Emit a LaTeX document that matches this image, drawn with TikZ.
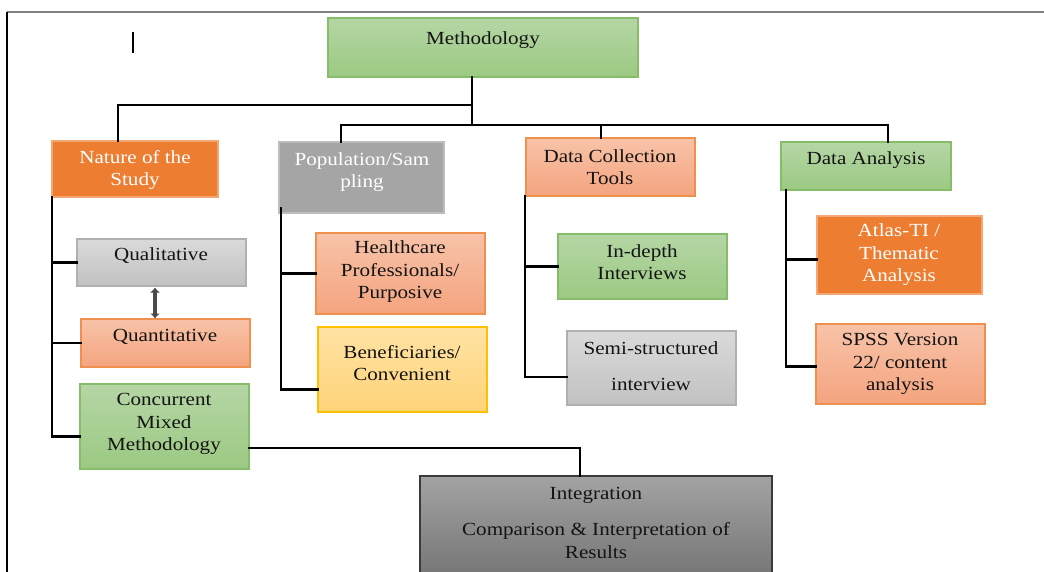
\documentclass[tikz,border=0pt]{standalone}
\usepackage{fontspec}
\setmainfont[FakeStretch=1.14]{Liberation Serif}
\usetikzlibrary{arrows.meta,calc}
\definecolor{grT}{HTML}{B5D6A5}
\definecolor{grB}{HTML}{9BC982}
\definecolor{grD}{HTML}{86BD68}
\definecolor{orF}{HTML}{ED7D31}
\definecolor{orD}{HTML}{F4A772}
\definecolor{saT}{HTML}{F8C3A8}
\definecolor{saB}{HTML}{F4A47F}
\definecolor{saD}{HTML}{F0904E}
\definecolor{gyF}{HTML}{A5A5A5}
\definecolor{gyD}{HTML}{BDBDBD}
\definecolor{lgT}{HTML}{DADADA}
\definecolor{lgB}{HTML}{C1C1C1}
\definecolor{lgD}{HTML}{B0B0B0}
\definecolor{yeT}{HTML}{FFE2A3}
\definecolor{yeB}{HTML}{FFD479}
\definecolor{yeD}{HTML}{FFC000}
\definecolor{dgT}{HTML}{A3A3A3}
\definecolor{dgB}{HTML}{767676}
\definecolor{dgD}{HTML}{3A3A3A}
\definecolor{txtc}{HTML}{141414}
\definecolor{arc}{HTML}{4A4A4A}
\tikzset{
  box/.style={rectangle, line width=1.2pt, inner sep=0pt},
  greenbox/.style={box, draw=grD, top color=grT, bottom color=grB},
  orangebox/.style={box, draw=orD, fill=orF},
  salmonbox/.style={box, draw=saD, top color=saT, bottom color=saB},
  greybox/.style={box, draw=gyD, fill=gyF},
  lgreybox/.style={box, draw=lgD, top color=lgT, bottom color=lgB},
  yellowbox/.style={box, draw=yeD, top color=yeT, bottom color=yeB},
  darkbox/.style={box, draw=dgD, top color=dgT, bottom color=dgB},
  txt/.style={align=center, inner sep=0pt, text=txtc, font=\fontsize{18.5}{22.5}\selectfont},
  wtxt/.style={txt, text=white},
  conn/.style={draw=black, line width=2.8pt, line cap=rect},
}
\begin{document}
\begin{tikzpicture}[x=1pt,y=-1pt]
\useasboundingbox (0,0) rectangle (1044,572);
\fill[white] (0,0) rectangle (1044,572);
% frame
\coordinate (ftl) at (7,12);
\coordinate (ftr) at (1044,12);
\coordinate (fbl) at (7,572);
\draw[gray, line width=1.8pt] (ftl) -- (ftr);
\draw[black, line width=1.8pt] (ftl) -- (fbl);
\coordinate (bar1) at (133,32);
\coordinate (bar2) at (133,53);
\draw[black, line width=1.5pt] (bar1) -- (bar2);

% boxes
\node[greenbox, minimum width=310pt, minimum height=59pt] (meth) at (483,47.5) {};
\node[orangebox, minimum width=166pt, minimum height=56pt] (nat) at (135,169) {};
\node[greybox, minimum width=165pt, minimum height=71pt] (pop) at (361.5,177.5) {};
\node[salmonbox, minimum width=169pt, minimum height=58pt] (dc) at (610.5,167) {};
\node[greenbox, minimum width=170pt, minimum height=48pt] (da) at (866,166) {};
\node[lgreybox, minimum width=169pt, minimum height=47pt] (qual) at (161.5,262.5) {};
\node[salmonbox, minimum width=169pt, minimum height=48pt] (quant) at (165.5,343) {};
\node[greenbox, minimum width=169pt, minimum height=85pt] (conc) at (164.5,426.5) {};
\node[salmonbox, minimum width=169pt, minimum height=81pt] (hc) at (400.5,273.5) {};
\node[yellowbox, minimum width=169pt, minimum height=85pt] (ben) at (402.5,369.5) {};
\node[greenbox, minimum width=169pt, minimum height=65pt] (ind) at (642.5,266.5) {};
\node[lgreybox, minimum width=169pt, minimum height=74pt] (semi) at (651.5,368) {};
\node[orangebox, minimum width=165pt, minimum height=78pt] (atl) at (899.5,255) {};
\node[salmonbox, minimum width=169pt, minimum height=80pt] (spss) at (900.5,364) {};
\node[darkbox, minimum width=352pt, minimum height=99pt] (integ) at (596,525.5) {};

% texts
\node[txt] (tmeth) at (483,40) {Methodology};
\node[wtxt] (tnat) at (135,170) {Nature of the\\Study};
\node[wtxt] (tpop) at (362,172) {Population/Sam\\pling};
\node[txt] (tdc) at (610,167) {Data Collection\\Tools};
\node[txt] (tda) at (866,160) {Data Analysis};
\node[txt] (tqual) at (161,256) {Qualitative};
\node[txt] (tquant) at (165,337) {Quantitative};
\node[txt] (tconc) at (164,424) {Concurrent\\Mixed\\Methodology};
\node[txt] (thc) at (400,272) {Healthcare\\Professionals/\\Purposive};
\node[txt] (tben) at (402,363) {Beneficiaries/\\Convenient};
\node[txt] (tind) at (642,262) {In-depth\\Interviews};
\node[txt] (tsemi) at (651,366) {Semi-structured\\[13pt]interview};
\node[wtxt] (tatl) at (899,255) {Atlas-TI /\\Thematic\\Analysis};
\node[txt] (tspss) at (900,364) {SPSS Version\\22/ content\\analysis};
\node[txt] (tinteg) at (596,522.5) {Integration\\[14pt]Comparison \& Interpretation of\\Results};

% junctions
\coordinate (j0) at (472,105);
\coordinate (j2) at (472,125);
\coordinate (h1) at (118,105);
\coordinate (h2a) at (341,125);
\coordinate (h2b) at (888,125);
\coordinate (h2c) at (601,125);

\draw[conn] (meth.south -| j0) -- (j2);
\draw[conn] (j0) -- (h1) -- (h1 |- nat.north);
\draw[conn] (h2a |- pop.north) -- (h2a) -- (h2b) -- (h2b |- da.north);
\draw[conn] (h2c) -- (h2c |- dc.north);

% Nature of the study branch
\coordinate (s1) at (52,197);
\coordinate (s1e) at ($(conc.south west)!0.38!(conc.north west)$);
\draw[conn] (s1) -- (s1 |- s1e) -- (s1e);
\draw[conn] (s1 |- qual.west) -- (qual.west);
\draw[conn] (s1 |- quant.west) -- (quant.west);
\coordinate (ar1) at (155,287.5);
\coordinate (ar2) at (155,318.5);
\draw[arc, line width=4pt, {Latex[length=5pt,width=10pt]}-{Latex[length=5pt,width=10pt]}] (ar1) -- (ar2);

% Population branch
\coordinate (s2) at (281,208);
\coordinate (s2e) at ($(ben.south west)!0.27!(ben.north west)$);
\draw[conn] (s2) -- (s2 |- s2e) -- (s2e);
\draw[conn] (s2 |- hc.west) -- (hc.west);

% Data collection branch
\coordinate (s3) at (525,196);
\coordinate (s3e) at ($(semi.south west)!0.38!(semi.north west)$);
\draw[conn] (s3) -- (s3 |- s3e) -- (s3e);
\draw[conn] (s3 |- ind.west) -- (ind.west);

% Data analysis branch
\coordinate (s4) at (786,190);
\coordinate (s4a) at ($(atl.south west)!0.44!(atl.north west)$);
\coordinate (s4e) at ($(spss.south west)!0.47!(spss.north west)$);
\draw[conn] (s4) -- (s4 |- s4e) -- (s4e);
\draw[conn] (s4 |- s4a) -- (s4a);

% Concurrent to Integration
\coordinate (c1) at ($(conc.south east)!0.25!(conc.north east)$);
\coordinate (c2) at (580,450);
\draw[conn] (c1) -- (c1 -| c2) -- (c2 |- integ.north);
\end{tikzpicture}
\end{document}
